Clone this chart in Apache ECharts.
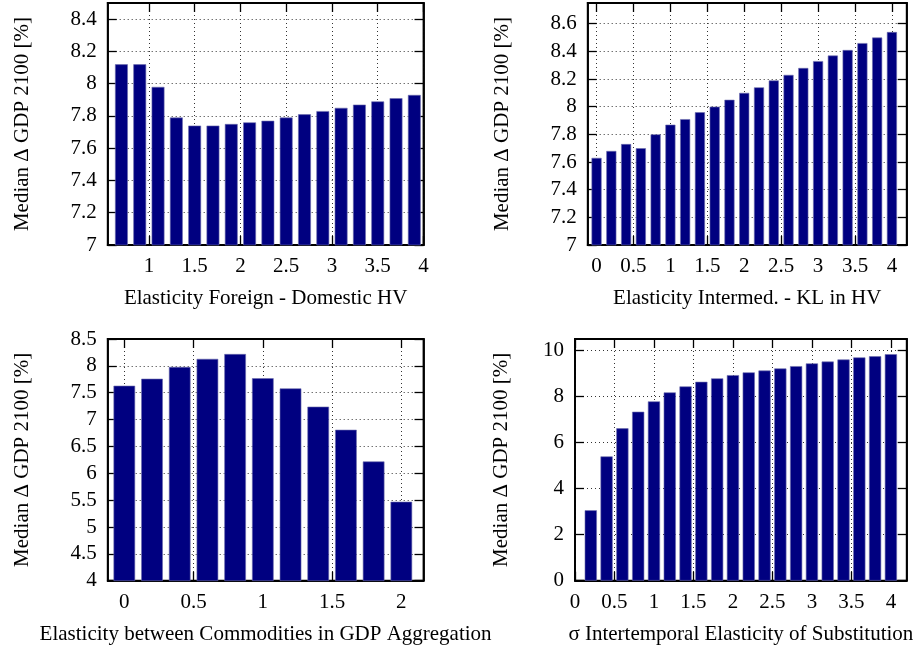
<!DOCTYPE html>
<html>
<head>
<meta charset="utf-8">
<script src="https://cdn.jsdelivr.net/npm/echarts@6/dist/echarts.min.js"></script>
<style>
  html, body { margin: 0; padding: 0; background: #fff; }
  #chart { width: 921px; height: 655px; }
</style>
</head>
<body>
<div id="chart"></div>
<script>
// Median change of GDP in 2100 (%) for four elasticity sweeps.

// Elasticity Foreign - Domestic HV
const foreignDomesticX = [0.7, 0.9, 1.1, 1.3, 1.5, 1.7, 1.9, 2.1, 2.3, 2.5, 2.7, 2.9, 3.1, 3.3, 3.5, 3.7, 3.9];
const foreignDomesticGdp = [8.12, 8.12, 7.98, 7.79, 7.74, 7.74, 7.75, 7.76, 7.77, 7.79, 7.81, 7.83, 7.85, 7.87, 7.89, 7.91, 7.93];
const foreignDomesticXTicks = [1, 1.5, 2, 2.5, 3, 3.5, 4];
const foreignDomesticYTicks = [7, 7.2, 7.4, 7.6, 7.8, 8, 8.2, 8.4];

// Elasticity Intermed. - KL in HV
const intermedX = [0, 0.2, 0.4, 0.6, 0.8, 1, 1.2, 1.4, 1.6, 1.8, 2, 2.2, 2.4, 2.6, 2.8, 3, 3.2, 3.4, 3.6, 3.8, 4];
const intermedGdp = [7.63, 7.68, 7.73, 7.70, 7.80, 7.87, 7.91, 7.96, 8.00, 8.05, 8.10, 8.14, 8.19, 8.23, 8.28, 8.33, 8.37, 8.41, 8.46, 8.50, 8.54];
const intermedXTicks = [0, 0.5, 1, 1.5, 2, 2.5, 3, 3.5, 4];
const intermedYTicks = [7, 7.2, 7.4, 7.6, 7.8, 8, 8.2, 8.4, 8.6];

// Elasticity between Commodities in GDP Aggregation
const commoditiesX = [0, 0.2, 0.4, 0.6, 0.8, 1, 1.2, 1.4, 1.6, 1.8, 2];
const commoditiesGdp = [7.63, 7.76, 7.98, 8.13, 8.22, 7.77, 7.58, 7.24, 6.81, 6.22, 5.47];
const commoditiesXTicks = [0, 0.5, 1, 1.5, 2];
const commoditiesYTicks = [4, 4.5, 5, 5.5, 6, 6.5, 7, 7.5, 8, 8.5];

// σ Intertemporal Elasticity of Substitution
const sigmaX = [0.2, 0.4, 0.6, 0.8, 1, 1.2, 1.4, 1.6, 1.8, 2, 2.2, 2.4, 2.6, 2.8, 3, 3.2, 3.4, 3.6, 3.8, 4];
const sigmaGdp = [3.06, 5.40, 6.62, 7.34, 7.79, 8.18, 8.44, 8.64, 8.79, 8.93, 9.05, 9.13, 9.22, 9.32, 9.44, 9.52, 9.61, 9.70, 9.75, 9.84];
const sigmaXTicks = [0, 0.5, 1, 1.5, 2, 2.5, 3, 3.5, 4];
const sigmaYTicks = [0, 2, 4, 6, 8, 10];

const yTitle = 'Median Δ GDP 2100 [%]';

const FONT = '"Liberation Serif", "Times New Roman", Times, serif';
const textStyle = { color: '#000', fontFamily: FONT, fontSize: 21 };

const grids = [], xAxes = [], yAxes = [], series = [];

function addPanel(p) {
  const g = grids.length;
  grids.push({
    left: p.box[0], top: p.box[1], width: p.box[2], height: p.box[3],
    show: true, borderColor: '#000', borderWidth: 1.8, backgroundColor: 'transparent'
  });
  const tick = { show: true, inside: true, length: 9, lineStyle: { color: '#000', width: 1.3 } };
  const dotted = { show: true, lineStyle: { color: '#333', width: 1, type: [1, 3] } };
  const line = { show: true, onZero: false, lineStyle: { color: '#000', width: 1.8 } };

  xAxes.push({
    type: 'value', gridIndex: g, position: 'bottom', min: p.xRange[0], max: p.xRange[1],
    axisLine: line,
    axisTick: Object.assign({ customValues: p.xTicks }, tick),
    axisLabel: Object.assign({ customValues: p.xTicks, margin: 11 }, textStyle),
    splitLine: dotted,
    name: p.xTitle, nameLocation: 'middle', nameGap: 43, nameTextStyle: textStyle
  });
  xAxes.push({
    type: 'value', gridIndex: g, position: 'top', min: p.xRange[0], max: p.xRange[1],
    axisLine: line,
    axisTick: Object.assign({ customValues: p.xTicks }, tick),
    axisLabel: { show: false }, splitLine: { show: false }
  });
  yAxes.push({
    type: 'value', gridIndex: g, position: 'left', min: p.yRange[0], max: p.yRange[1],
    axisLine: line,
    axisTick: Object.assign({ customValues: p.yTicks }, tick),
    axisLabel: Object.assign({ customValues: p.yTicks, margin: 11 }, textStyle),
    splitLine: dotted,
    name: yTitle, nameLocation: 'middle', nameGap: p.yNameGap, nameTextStyle: textStyle
  });
  yAxes.push({
    type: 'value', gridIndex: g, position: 'right', min: p.yRange[0], max: p.yRange[1],
    axisLine: line,
    axisTick: Object.assign({ customValues: p.yTicks }, tick),
    axisLabel: { show: false }, splitLine: { show: false }
  });
  series.push({
    type: 'bar', xAxisIndex: 2 * g, yAxisIndex: 2 * g,
    data: p.x.map((v, i) => [v, p.y[i]]),
    barWidth: p.barWidth,
    clip: true,
    itemStyle: { color: '#000080', borderColor: '#6d6dad', borderWidth: 0.6 },
    emphasis: { disabled: true }
  });
}

addPanel({
  box: [107.7, 3, 315.8, 242],
  x: foreignDomesticX, y: foreignDomesticGdp,
  xRange: [0.55, 4.0], yRange: [7, 8.5],
  xTicks: foreignDomesticXTicks, yTicks: foreignDomesticYTicks,
  xTitle: 'Elasticity Foreign - Domestic HV', yNameGap: 75, barWidth: '70%'
});
addPanel({
  box: [587.7, 3, 319, 242],
  x: intermedX, y: intermedGdp,
  xRange: [-0.12, 4.2], yRange: [7, 8.75],
  xTicks: intermedXTicks, yTicks: intermedYTicks,
  xTitle: 'Elasticity Intermed. - KL in HV', yNameGap: 75, barWidth: '68%'
});
addPanel({
  box: [107.7, 339, 315.8, 241.7],
  x: commoditiesX, y: commoditiesGdp,
  xRange: [-0.12, 2.16], yRange: [4, 8.5],
  xTicks: commoditiesXTicks, yTicks: commoditiesYTicks,
  xTitle: 'Elasticity between Commodities in GDP Aggregation', yNameGap: 75, barWidth: '78%'
});
addPanel({
  box: [575, 339, 331.7, 241.7],
  x: sigmaX, y: sigmaGdp,
  xRange: [0, 4.2], yRange: [0, 10.5],
  xTicks: sigmaXTicks, yTicks: sigmaYTicks,
  xTitle: 'σ Intertemporal Elasticity of Substitution', yNameGap: 63, barWidth: '77%'
});

const chart = echarts.init(document.getElementById('chart'), null, { renderer: 'canvas' });
chart.setOption({
  animation: false,
  backgroundColor: '#fff',
  grid: grids,
  xAxis: xAxes,
  yAxis: yAxes,
  series: series
});
</script>
</body>
</html>
